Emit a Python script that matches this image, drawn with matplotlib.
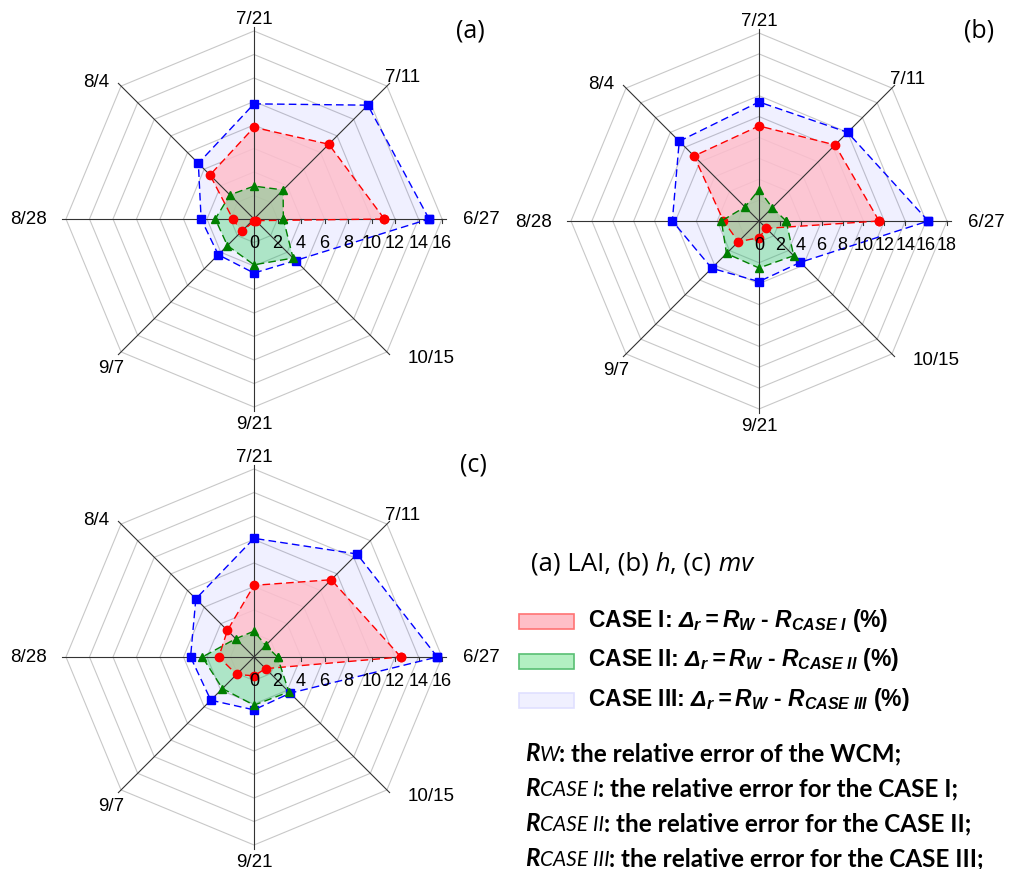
import numpy as np
import matplotlib.pyplot as plt
from matplotlib.patches import Rectangle
from matplotlib.offsetbox import TextArea, HPacker, AnchoredOffsetbox

plt.rcParams['font.family'] = ['Liberation Sans', 'DejaVu Sans']
plt.rcParams['mathtext.fontset'] = 'custom'
plt.rcParams['mathtext.rm'] = 'Liberation Sans:bold:italic'
plt.rcParams['mathtext.it'] = 'Liberation Sans:bold:italic'
plt.rcParams['mathtext.bf'] = 'Liberation Sans:bold'

# %% data (relative-error differences, %)
dates = ['6/27', '7/11', '7/21', '8/4', '8/28', '9/7', '9/21', '10/15']

# (a) LAI
lai_case1 = [11.1, 9.0, 7.8, 5.3, 1.8, 1.5, 0.2, 0.2]
lai_case2 = [2.5, 3.5, 2.8, 2.9, 3.3, 3.2, 3.9, 4.7]
lai_case3 = [14.9, 13.7, 9.8, 6.7, 4.5, 4.3, 4.6, 5.0]
lai_ticks = [0, 2, 4, 6, 8, 10, 12, 14, 16]

# (b) h
h_case1 = [11.5, 10.3, 9.1, 8.8, 3.4, 2.8, 1.6, 1.0]
h_case2 = [2.6, 1.8, 3.0, 1.9, 3.6, 4.4, 4.5, 4.7]
h_case3 = [16.2, 12.0, 11.4, 10.8, 8.3, 6.4, 5.8, 5.6]
h_ticks = [0, 2, 4, 6, 8, 10, 12, 14, 16, 18]

# (c) mv
mv_case1 = [12.5, 9.3, 6.1, 3.2, 3.0, 2.1, 1.6, 1.4]
mv_case2 = [2.0, 1.4, 2.2, 2.2, 4.4, 3.8, 4.1, 4.2]
mv_case3 = [15.6, 12.4, 10.1, 7.0, 5.4, 5.2, 4.5, 4.35]
mv_ticks = [0, 2, 4, 6, 8, 10, 12, 14, 16]

# %% figure
FW, FH = 1013, 870
fig = plt.figure(figsize=(FW / 100, FH / 100), dpi=100)

# overlay axes in pixel coordinates (for legend / notes)
over = fig.add_axes([0, 0, 1, 1])
over.set_xlim(0, FW)
over.set_ylim(FH, 0)
over.axis('off')

theta = np.arange(len(dates)) * np.pi / 4
R_PX = 188  # pixel radius of outer ring
# label centers, in units of the outer ring radius
lab_off = [(1.21, 0.0), (0.79, 0.76), (0.0, 1.065), (-0.84, 0.73),
           (-1.20, 0.0), (-0.76, -0.79), (0.0, -1.09), (0.94, -0.735)]

styles = [  # color, fill, marker, zorder
    ('#0000ff', (0.0, 0.0, 1.0, 0.06), 's', 2),
    ('#ff0000', (1.0, 0.75, 0.80, 0.85), 'o', 3),
    ('#007f00', (0.19, 0.82, 0.38, 0.35), '^', 4),
]


def radar(cx, cy, ticks, case1, case2, case3):
    half = 250
    ax = fig.add_axes([(cx - half) / FW, 1 - (cy + half) / FH,
                       2 * half / FW, 2 * half / FH])
    ax.patch.set_alpha(0)
    rmax = ticks[-1]
    lim = half / R_PX * rmax
    ax.set_xlim(-lim, lim)
    ax.set_ylim(-lim, lim)
    ax.axis('off')
    px = rmax / R_PX  # data units per pixel

    c, s = np.cos(theta), np.sin(theta)
    cc, ss = np.append(c, c[0]), np.append(s, s[0])
    for r in ticks[1:]:
        ax.plot(r * cc, r * ss, color='#c8c8c8', lw=0.8, zorder=1)

    for vals, (col, fc, mk, z) in zip([case3, case1, case2], styles):
        v = np.append(vals, vals[0])
        ax.fill(v * cc, v * ss, facecolor=fc, edgecolor='none', zorder=z)
        ax.plot(v * cc, v * ss, ls=(0, (5.5, 3)), lw=1.0, color=col,
                marker=mk, ms=6, mec=col, mfc=col, zorder=6)

    for ci, si in zip(c, s):
        ax.plot([0, rmax * 1.02 * ci], [0, rmax * 1.02 * si],
                color='#333333', lw=0.8, zorder=5)
    for r in ticks:
        ax.plot([r, r], [0, -4 * px], color='#333333', lw=0.8, zorder=5)
        ax.text(r, -28 * px, str(r), ha='center', va='baseline',
                fontsize=13, zorder=7)

    for d, (ox, oy) in zip(dates, lab_off):
        ax.text(ox * rmax, oy * rmax, d, ha='center', va='center',
                fontsize=13.5)
    return ax


radar(254, 220, lai_ticks, lai_case1, lai_case2, lai_case3)
radar(759, 222, h_ticks, h_case1, h_case2, h_case3)
radar(254, 658, mv_ticks, mv_case1, mv_case2, mv_case3)

tag_font = dict(family='Open Sans', fontsize=18, ha='center', va='center')
over.text(470, 31, '(a)', **tag_font)
over.text(979, 31, '(b)', **tag_font)
over.text(473, 465, '(c)', **tag_font)


def rich(parts, x, y, family='Lato'):
    boxes = [TextArea(t, textprops=dict(family=family, fontsize=fs,
                                        fontweight=w, fontstyle=st))
             for t, fs, w, st in parts]
    pack = HPacker(children=boxes, align='baseline', pad=0, sep=0)
    ab = AnchoredOffsetbox(loc='lower left', child=pack, pad=0, borderpad=0,
                           frameon=False, bbox_to_anchor=(x, y),
                           bbox_transform=over.transData)
    over.add_artist(ab)


rich([('(a) LAI, (b)', 18.5, 'normal', 'normal'),
      (' h', 18.5, 'normal', 'italic'),
      (', (c)', 18.5, 'normal', 'normal'),
      (' mv', 18.5, 'normal', 'italic')], 531, 577, family='Open Sans')

# legend
leg_fill = [(1.0, 0.75, 0.78), (0.70, 0.94, 0.76), (0.94, 0.94, 1.0)]
leg_edge = [(1.0, 0.45, 0.45), (0.35, 0.75, 0.45), (0.88, 0.88, 1.0)]
leg_text = [r'CASE I: $\Delta_r = R_W$ - $R_{CASE\ I}$ (%)',
            r'CASE II: $\Delta_r = R_W$ - $R_{CASE\ II}$ (%)',
            r'CASE III: $\Delta_r = R_W$ - $R_{CASE\ III}$ (%)']
for i, (fc, ec, t) in enumerate(zip(leg_fill, leg_edge, leg_text)):
    y0 = 615 + i * 39.5
    over.add_patch(Rectangle((519, y0), 55, 15, facecolor=fc, edgecolor=ec,
                             lw=1.2))
    over.text(588, y0 + 12, t, fontsize=16.5, fontweight='bold',
              family='Liberation Sans', va='baseline', ha='left')

notes = [('W', ': the relative error of the WCM;'),
         ('CASE I', ': the relative error for the CASE I;'),
         ('CASE II', ': the relative error for the CASE II;'),
         ('CASE III', ': the relative error for the CASE III;')]
for i, (sub, rest) in enumerate(notes):
    rich([('R', 17.5, 'bold', 'italic'),
          (sub, 15, 'normal', 'italic'),
          (rest, 17.5, 'bold', 'normal')], 525, 765 + i * 35)

fig.savefig('out.png', dpi=100)
